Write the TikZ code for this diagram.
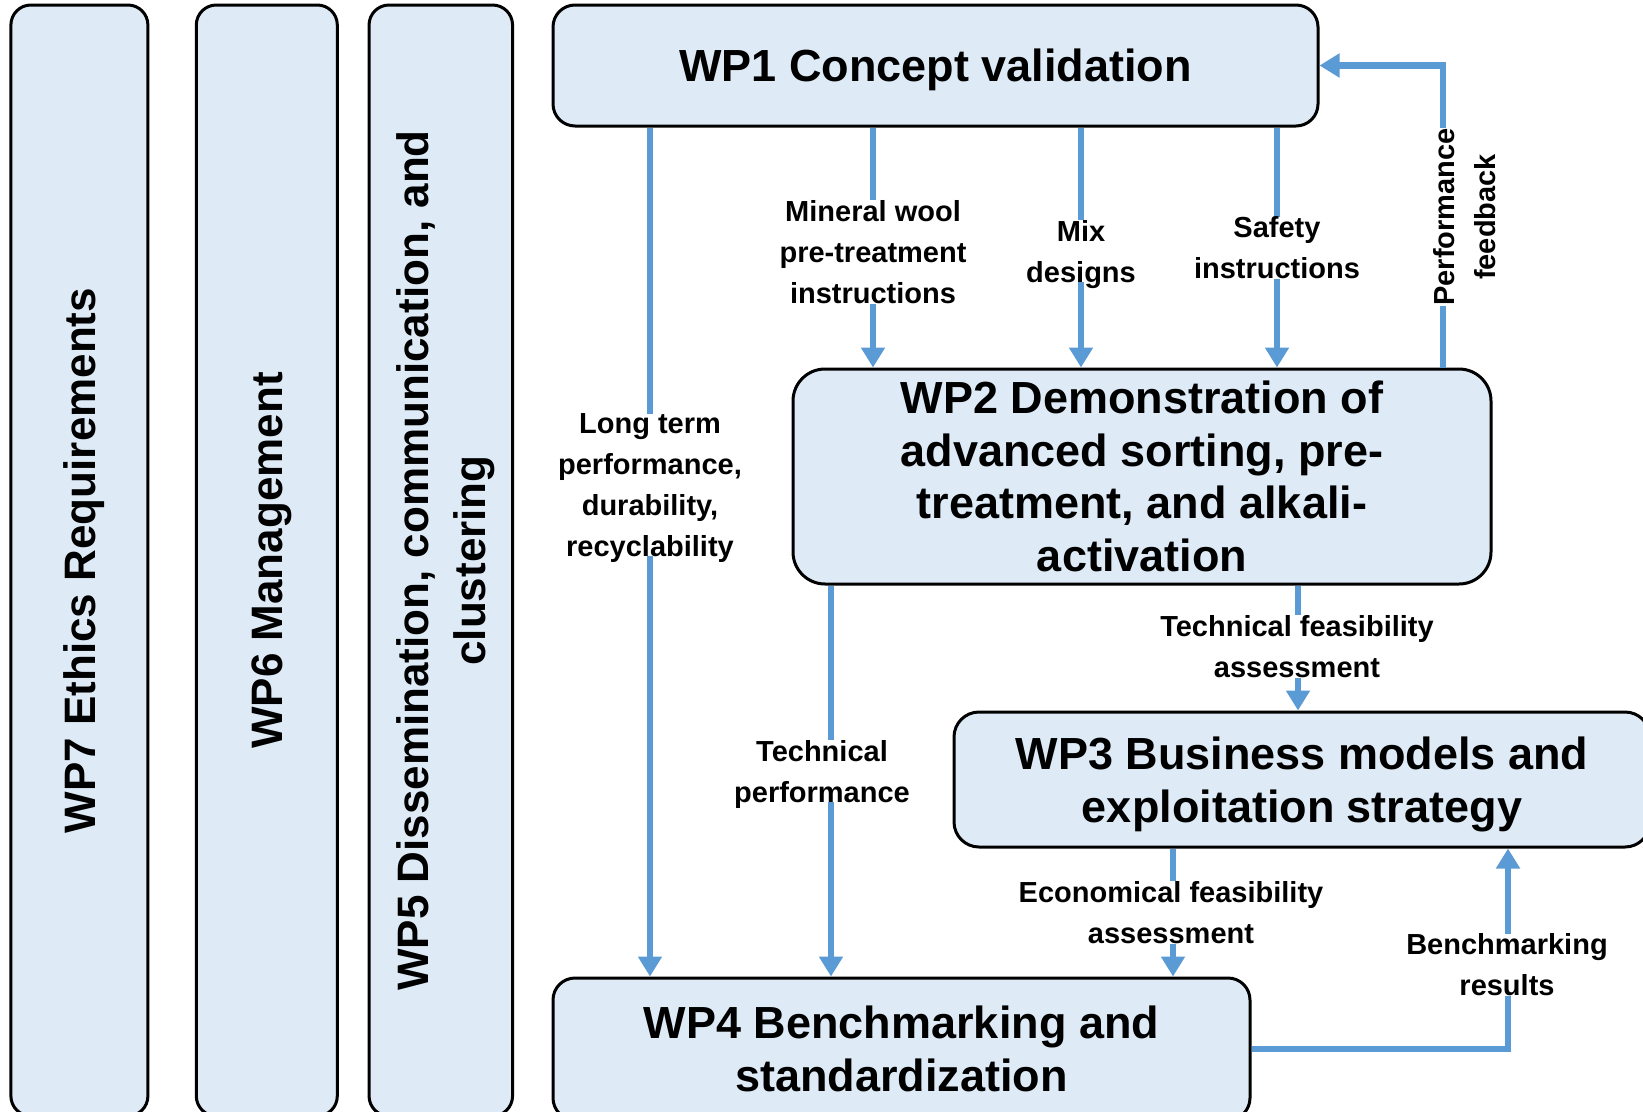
\documentclass[tikz,border=0pt]{standalone}
\usepackage{fontspec}
\setmainfont{Liberation Sans}
\usetikzlibrary{arrows.meta}
\definecolor{boxfill}{RGB}{222,235,247}
\definecolor{arrowblue}{RGB}{91,155,213}
\newcommand\nodesc[1]{\raisebox{0pt}[\height][0pt]{#1}}
\begin{document}
\begin{tikzpicture}[x=1pt,y=-1pt,
  wpbox/.style={draw=black, line width=3pt, fill=boxfill, rounded corners=22pt, align=center,
    font=\fontsize{45}{52.4}\selectfont\bfseries, inner sep=0pt},
  barbox/.style={wpbox, rotate=90, rounded corners=20pt, font=\fontsize{44}{57}\selectfont\bfseries},
  flow/.style={draw=arrowblue, line width=6.5pt, -{Triangle[width=23pt,length=20pt]}},
  lbl/.style={fill=white, inner sep=0pt, align=center, font=\fontsize{29}{41}\selectfont\bfseries},
]
\useasboundingbox (0,0) rectangle (1643,1111);
\fill[white] (0,0) rectangle (1643,1111);
\clip (0,0) rectangle (1643,1111);

% side bars
\node[barbox, minimum width=1111pt, minimum height=137pt] (wp7) at (79.4,560.5) {\nodesc{WP7 Ethics Requirements}};
\node[barbox, minimum width=1111pt, minimum height=141pt] (wp6) at (266.8,560.5) {\nodesc{WP6 Management}};
\node[barbox, minimum width=1111pt, minimum height=143.5pt] (wp5) at (440.8,560.5) {WP5 Dissemination, communication, and\\\nodesc{clustering}};

% main boxes
\node[wpbox, minimum width=765pt, minimum height=121pt] (wp1) at (935.5,65.5) {\nodesc{WP1 Concept validation}};
\node[wpbox, rounded corners=32pt, minimum width=698pt, minimum height=215pt] (wp2) at (1142,476.5)
  {WP2 Demonstration of\\advanced sorting, pre-\\treatment, and alkali-\\activation};
\node[wpbox, rounded corners=25pt, minimum width=696pt, minimum height=135pt] (wp3) at (1302,779.5)
  {WP3 Business models and\\\nodesc{exploitation strategy}};
\node[wpbox, minimum width=697pt, minimum height=142pt] (wp4) at (901.5,1049)
  {WP4 Benchmarking and\\standardization};

% connector x positions
\coordinate (xlong) at (650,0);
\coordinate (xmin) at (873,0);
\coordinate (xmix) at (1081,0);
\coordinate (xsaf) at (1277,0);
\coordinate (xfb) at (1443,0);
\coordinate (xtf) at (1298,0);
\coordinate (xtp) at (831,0);
\coordinate (xef) at (1173,0);
\coordinate (xbr) at (1508,0);

% connectors
\draw[flow] (wp1.south -| xlong) -- (wp4.north -| xlong);
\draw[flow] (wp1.south -| xmin) -- (wp2.north -| xmin);
\draw[flow] (wp1.south -| xmix) -- (wp2.north -| xmix);
\draw[flow] (wp1.south -| xsaf) -- (wp2.north -| xsaf);
\draw[flow] (wp2.north -| xfb) |- (wp1.east);
\draw[flow] (wp2.south -| xtf) -- (wp3.north -| xtf);
\draw[flow] (wp2.south -| xtp) -- (wp4.north -| xtp);
\draw[flow] (wp3.south -| xef) -- (wp4.north -| xef);
\draw[flow] (wp4.east) -| (wp3.south -| xbr);

% labels
\node[lbl] (lLong) at (650,485) {Long term\\performance,\\durability,\\\nodesc{recyclability}};
\node[lbl] (lMin) at (873,252) {Mineral wool\\pre-treatment\\instructions};
\node[lbl] (lMix) at (1081,251) {Mix\\\nodesc{designs}};
\node[lbl] (lSaf) at (1277,248) {Safety\\instructions};
\node[lbl, rotate=90] (lFb) at (1465,217) {Performance\\feedback};
\node[lbl] (lTF) at (1297,646.5) {Technical feasibility\\assessment};
\node[lbl] (lTP) at (822,771) {Technical\\\nodesc{performance}};
\node[lbl] (lEF) at (1171,912.5) {Economical feasibility\\assessment};
\node[lbl] (lBR) at (1507,965) {Benchmarking\\results};
\end{tikzpicture}
\end{document}
